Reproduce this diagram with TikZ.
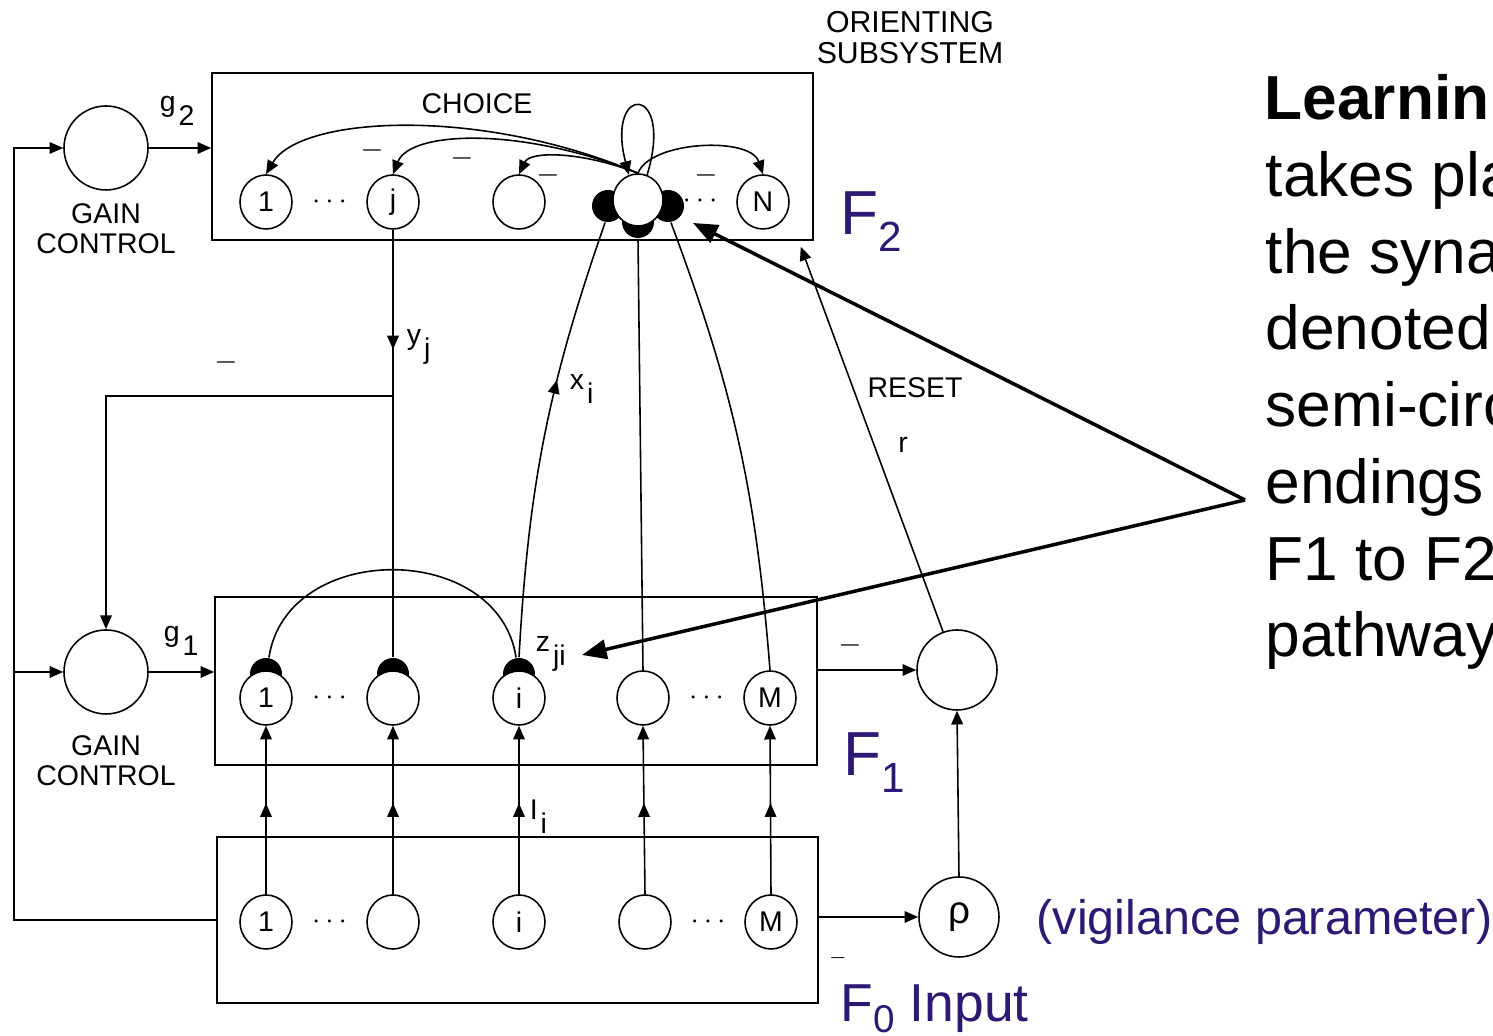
\documentclass[tikz,border=0pt]{standalone}
\usepackage{fontspec}
\setmainfont{Liberation Sans}
\usepackage{tikz}
\usetikzlibrary{arrows.meta,positioning,calc,shapes.geometric,decorations.markings}
\definecolor{encre}{RGB}{45,25,115}
\newcommand\dfont{\fontsize{8.1}{8.6}\selectfont}
\newcommand\indice[1]{\kern0.3mm\raisebox{-1.4mm}{#1}}
\newcommand\Fsub[1]{F\raisebox{-1.7mm}{\fontsize{12}{12}\selectfont #1}}

\begin{document}
\begin{tikzpicture}[x=0.1mm,y=0.1mm,line width=0.45pt,font=\dfont,
	>={Triangle[length=3.9pt,width=3.3pt]},
	layer/.style={draw,rectangle,inner sep=0pt},
	cell/.style={ellipse,draw,fill=white,minimum width=5.2mm,minimum height=5.4mm,inner sep=0pt},
	gain/.style={circle,draw,minimum size=8.4mm,inner sep=0pt},
	blob/.style={circle,fill=black,minimum size=3.2mm,inner sep=0pt},
	midarr/.style={postaction={decorate},decoration={markings,mark=at position #1 with {\arrow{>}}}},
	moins/.style={inner sep=0pt},
	lab/.style={anchor=base west,inner sep=0pt},
	big/.style={text=encre,font=\fontsize{17.7}{21}\selectfont,anchor=base west,inner sep=0pt},
	callout/.style={line width=1pt,-{Triangle[length=7pt,width=5.5pt]}}]
	\useasboundingbox (0,0) rectangle (1493,1036);
	\clip (0,0) rectangle (1493,1036);
	
	%% couches F2, F1, F0
	\node[layer,minimum width=60.1mm,minimum height=16.7mm] (F2) at (512.5,879.5) {};
	\node[layer,minimum width=60.2mm,minimum height=16.8mm] (F1) at (516,355) {};
	\node[layer,minimum width=60.1mm,minimum height=16.6mm] (F0) at (517.5,116) {};
	\node at (477,932) {CHOICE};
	\node[align=center,font=\fontsize{8.6}{8.8}\selectfont] at (910,998) {ORIENTING\\SUBSYSTEM};
	
	%% cellules F2 (la gagnante avec ses terminaisons)
	\node[blob] (bl) at (608,830) {};
	\node[blob] (br) at (668,830) {};
	\node[blob] (bb) at (638,814) {};
	\node[cell] (a1) at (266,834) {1};
	\node[cell] (aj) at (393,834) {j};
	\node[cell] (ak) at (519,834) {};
	\node[cell,minimum width=5mm,minimum height=5.2mm] (aw) at (638,836) {};
	\node[cell] (aN) at (763,834) {N};
	\path (a1) -- node{$\cdots$} (aj);
	\path (aw) -- node{$\cdots$} (aN);
	
	%% cellules F1
	\foreach \x [count=\k] in {266,393,519}
		\node[blob] (c\k) at (\x,362) {};
	\foreach \x/\t [count=\k] in {266/1,393/{},519/i,643/{},770/M}
		\node[cell] (b\k) at (\x,338) {\t};
	\path (b1) -- node{$\cdots$} (b2);
	\path (b4) -- node{$\cdots$} (b5);
	
	%% cellules F0
	\foreach \x/\t [count=\k] in {266/1,393/{},519/i,645/{},771/M}
		\node[cell] (d\k) at (\x,114) {\t};
	\path (d1) -- node{$\cdots$} (d2);
	\path (d4) -- node{$\cdots$} (d5);
	
	%% controle de gain, reset, vigilance
	\node[gain] (g2) at (106,888) {};
	\node[gain] (g1) at (106,364) {};
	\node[align=center,below=1.2mm of g2,inner sep=0pt] {GAIN\\CONTROL};
	\node[align=center,below=2mm of g1,inner sep=0pt] {GAIN\\CONTROL};
	\node[gain,minimum size=8mm] (reset) at (957,366) {};
	\node[gain,minimum size=8mm,font=\fontsize{11}{11}\selectfont] (rho) at (959,119) {ρ};
	
	%% liaisons de gain
	\coordinate (bus) at (14,116);
	\draw[->] (F0.west) -- (bus) |- (g2.west);
	\draw[->] (bus |- g1) -- (g1.west);
	\draw[->] (g2.east) -- (g2 -| F2.west);
	\draw[->] (g1.east) -- (g1 -| F1.west);
	\draw[->] (reset -| F1.east) -- (reset.west);
	\draw[->] (rho -| F0.east) -- (rho.west);
	\draw[->] (rho.north) -- (reset.south);
	\draw[->] (reset.110) -- ($(F2.south east)+(-13,-6)$);
	
	%% competition dans F2
	\draw[->] (aw.north) .. controls (480,930) and (300,920) .. (a1.north);
	\draw[->] (aw.north) .. controls (520,910) and (410,905) .. (aj.north);
	\draw[->] (aw.north) .. controls (580,885) and (530,885) .. (ak.north);
	\draw[->] (aw.north) .. controls (650,895) and (750,900) .. (aN.north);
	\draw[->] (aw.70) .. controls (675,953) and (605,953) .. (aw.110);
	
	%% voies F2 -> F1 et F1 -> F2
	\coordinate (fork) at (393,640);
	\draw[midarr=0.28] (aj) -- (c2.north);
	\draw[->] (fork) -| (g1.north);
	\draw[midarr=0.63] (c3.north) to[bend left=8] (bl.260);
	\draw (b4.north) -- (bb.south);
	\draw (b5.north) to[bend right=8] (br.280);
	\draw (c1.80) .. controls +(18,117) and +(-18,117) .. (c3.100);
	
	%% entrees F0 -> F1
	\foreach \k in {1,...,5}
		\draw[->,midarr=0.54] (d\k.north) -- (b\k.south);
	
	%% etiquettes
	\node[lab] at (159,924) {g\indice{2}};
	\node[lab] at (163,394) {g\indice{1}};
	\node[lab] at (406,691) {y\indice{j}};
	\node[lab] at (569,646) {x\indice{i}};
	\node[lab] at (535,384) {z\indice{ji}};
	\node[lab] at (529,216) {I\indice{i}};
	\node at (915,648) {RESET};
	\node at (903,591) {r};
	\foreach \p in {(372,886),(462,878),(548,861),(706,861),(226,674),(850,391)}
		\node[moins] at \p {$-$};
	\node[moins,font=\tiny] at (838,78) {$-$};
	
	%% legendes
	\node[big] at (840,801) {\Fsub{2}};
	\node[big] at (843,260) {\Fsub{1}};
	\node[big,font=\fontsize{15.2}{18}\selectfont] at (840,14) {F\raisebox{-1.1mm}{\fontsize{11}{11}\selectfont 0} Input};
	\node[big,font=\fontsize{13.8}{16}\selectfont] at (1036,101) {(vigilance parameter)};
	\node[big,text=black,font=\bfseries\fontsize{17.7}{21}\selectfont] at (1264,916) {Learnin};
	\foreach \t [count=\k] in {takes pla,the syna,denoted,semi-circ,endings,F1 to F2,pathway}
		\node[big,text=black] at (1265,916-76.67*\k) {\t};
	
	%% fleches vers les synapses
	\coordinate (apex) at (1245,536);
	\coordinate (synF2) at (693,813);
	\coordinate (synF1) at (582,381);
	\draw[callout] (apex) -- (synF2);
	\draw[callout] (apex) -- (synF1);
\end{tikzpicture}
\end{document}
